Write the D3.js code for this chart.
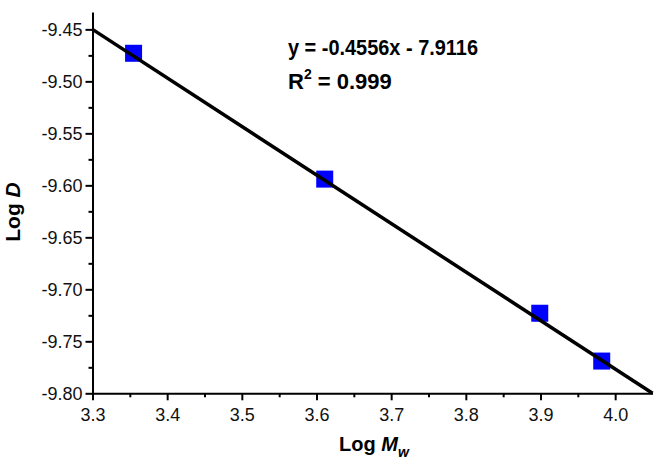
<!DOCTYPE html>
<html>
<head>
<meta charset="utf-8">
<script src="https://cdn.jsdelivr.net/npm/d3@7"></script>
<style>
  body { margin: 0; background: #fff; }
  svg { display: block; font-family: "Liberation Sans", Arial, sans-serif; }
</style>
</head>
<body>
<svg width="656" height="469"></svg>
<script>
// measured points (Log Mw, Log D)
var logMw = [3.355, 3.611, 3.899, 3.982];
var logD = [-9.473, -9.594, -9.723, -9.769];
// fitted line as drawn
var fitX = [3.3, 4.05];
var fitY = [-9.45, -9.80];
var xTicks = [3.3, 3.4, 3.5, 3.6, 3.7, 3.8, 3.9, 4.0];
var yTicks = [-9.45, -9.50, -9.55, -9.60, -9.65, -9.70, -9.75, -9.80];
var xMinor = [3.35, 3.45, 3.55, 3.65, 3.75, 3.85, 3.95];
var yMinor = [-9.475, -9.525, -9.575, -9.625, -9.675, -9.725, -9.775];

(function () {
  var svg = d3.select("svg");
  var plotL = 92.5, plotR = 652.5, plotT = 12, plotB = 393.3;

  var x = d3.scaleLinear().domain([3.3, 4.05]).range([plotL, plotR]);
  var y = d3.scaleLinear().domain([-9.80, -9.4333]).range([plotB, plotT]);

  // x axis
  svg.append("g").attr("transform", "translate(0," + plotB + ")")
    .call(d3.axisBottom(x).tickValues(xMinor).tickFormat("").tickSize(4).tickSizeOuter(0))
    .call(function (g) { g.select(".domain").remove(); })
    .selectAll(".tick line").attr("stroke-width", 2);
  var gx = svg.append("g").attr("transform", "translate(0," + plotB + ")")
    .call(d3.axisBottom(x).tickValues(xTicks).tickFormat(d3.format(".1f")).tickSize(7).tickSizeOuter(0));
  gx.selectAll(".domain").attr("stroke-width", 2);
  gx.selectAll(".tick line").attr("stroke-width", 2);
  gx.selectAll(".tick text").attr("font-size", "18px").attr("fill", "#111").attr("y", 15);

  // y axis
  svg.append("g").attr("transform", "translate(" + plotL + ",0)")
    .call(d3.axisLeft(y).tickValues(yMinor).tickFormat("").tickSize(4).tickSizeOuter(0))
    .call(function (g) { g.select(".domain").remove(); })
    .selectAll(".tick line").attr("stroke-width", 2);
  var gy = svg.append("g").attr("transform", "translate(" + plotL + ",0)")
    .call(d3.axisLeft(y).tickValues(yTicks).tickFormat(d3.format(".2f")).tickSize(7).tickSizeOuter(0));
  gy.selectAll(".domain").attr("stroke-width", 2);
  gy.selectAll(".tick line").attr("stroke-width", 2);
  gy.selectAll(".tick text").attr("font-size", "18px").attr("fill", "#111").attr("x", -10)
    .text(function (d) { return d3.format(".2f")(d).replace("\u2212", "-"); });

  // points
  svg.selectAll("rect.pt")
    .data(d3.zip(logMw, logD))
    .enter().append("rect")
    .attr("class", "pt")
    .attr("x", function (d) { return x(d[0]) - 8.5; })
    .attr("y", function (d) { return y(d[1]) - 8.5; })
    .attr("width", 17)
    .attr("height", 17)
    .attr("fill", "#0000ff");

  // fit line
  var line = d3.line()
    .x(function (d) { return x(d[0]); })
    .y(function (d) { return y(d[1]); });
  svg.append("path")
    .datum(d3.zip(fitX, fitY))
    .attr("d", line)
    .attr("fill", "none")
    .attr("stroke", "#000")
    .attr("stroke-width", 3.5);

  // equation
  svg.append("text")
    .attr("x", 288).attr("y", 55)
    .attr("font-size", "22px").attr("font-weight", "bold")
    .attr("textLength", 190).attr("lengthAdjust", "spacingAndGlyphs")
    .text("y = -0.4556x - 7.9116");
  var r2 = svg.append("text")
    .attr("x", 288).attr("y", 89)
    .attr("font-size", "22px").attr("font-weight", "bold");
  r2.append("tspan").text("R");
  r2.append("tspan").attr("font-size", "14px").attr("dy", -10).text("2");
  r2.append("tspan").attr("dy", 10).text(" = 0.999");

  // axis titles
  var xt = svg.append("text")
    .attr("x", 374).attr("y", 451)
    .attr("text-anchor", "middle")
    .attr("font-size", "20px").attr("font-weight", "bold");
  xt.append("tspan").text("Log ");
  xt.append("tspan").attr("font-style", "italic").text("M");
  xt.append("tspan").attr("font-style", "italic").attr("font-size", "14px").attr("dy", 6).text("w");

  var yt = svg.append("text")
    .attr("transform", "translate(20,212) rotate(-90)")
    .attr("text-anchor", "middle")
    .attr("font-size", "21px").attr("font-weight", "bold");
  yt.append("tspan").text("Log ");
  yt.append("tspan").attr("font-style", "italic").text("D");
})();
</script>
</body>
</html>
